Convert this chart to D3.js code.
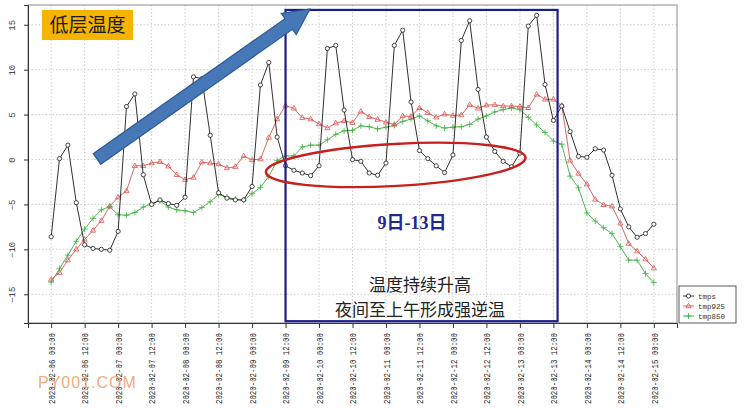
<!DOCTYPE html>
<html><head><meta charset="utf-8">
<script src="https://cdn.jsdelivr.net/npm/d3@7/dist/d3.min.js"></script>
<style>body{margin:0;background:#fff}svg{display:block}</style>
</head><body>
<svg id="c" width="750" height="408"></svg>
<script>
// ---- data (3-hourly, 2020-02-06 00:00 .. 2020-02-15 00:00) ----
const startTime = "2020-02-06T00:00:00Z";
const stepHours = 3;
const tmps = [-8.6,0.1,1.6,-4.8,-9.5,-9.9,-10.0,-10.1,-8.0,5.9,7.3,-1.7,-5.0,-4.5,-4.9,-5.1,-4.2,9.2,9.0,2.7,-3.7,-4.3,-4.5,-4.5,-3.0,8.3,10.8,2.5,-0.7,-1.2,-1.5,-1.8,-0.7,12.35,12.7,5.5,0.0,-0.2,-1.5,-1.75,-0.4,12.7,14.4,6.4,1.0,0.1,-0.7,-1.45,0.5,13.25,15.45,7.8,2.5,0.9,-0.2,-0.8,0.7,14.85,16.05,8.35,4.35,5.95,3.1,0.35,0.25,1.2,1.05,-1.75,-5.5,-7.5,-8.65,-8.25,-7.2];
const tmp925 = [-13.35,-12.6,-11.2,-10.0,-8.9,-7.9,-6.8,-5.2,-4.2,-3.5,-0.7,-0.7,-0.4,-0.25,-0.75,-1.7,-2.25,-2.0,-0.3,-0.4,-0.5,-0.95,-0.8,0.4,-0.05,0.05,2.45,4.5,6.0,5.7,4.65,4.5,3.95,3.5,4.05,4.3,4.1,5.35,4.75,4.45,4.15,3.9,4.85,4.8,5.75,5.2,4.7,5.05,4.9,4.95,6.1,5.7,6.05,6.1,5.95,5.95,5.9,5.75,7.25,6.7,6.7,6.0,-0.1,-1.55,-2.75,-4.45,-5.05,-5.2,-7.1,-9.35,-10.2,-11.1,-12.1];
const tmp850 = [-13.65,-12.15,-10.65,-9.1,-7.75,-6.55,-5.6,-5.25,-6.15,-6.2,-5.9,-5.3,-4.9,-4.6,-5.3,-5.6,-5.7,-5.9,-5.35,-4.7,-3.9,-4.2,-4.4,-4.55,-3.8,-3.1,-1.9,-0.1,0.4,0.4,1.4,1.6,1.6,2.2,2.8,3.2,3.25,3.75,3.65,3.4,3.6,3.8,4.25,4.5,4.85,4.3,3.75,3.5,3.6,3.65,3.9,4.5,4.85,5.3,5.55,5.75,5.55,4.7,3.85,3.0,2.05,1.7,-1.85,-3.15,-5.95,-6.85,-7.6,-8.25,-9.7,-11.2,-11.2,-12.7,-13.7];
const tickLabels = ["2020-02-06 00:00","2020-02-06 12:00","2020-02-07 00:00","2020-02-07 12:00","2020-02-08 00:00","2020-02-08 12:00","2020-02-09 00:00","2020-02-09 12:00","2020-02-10 00:00","2020-02-10 12:00","2020-02-11 00:00","2020-02-11 12:00","2020-02-12 00:00","2020-02-12 12:00","2020-02-13 00:00","2020-02-13 12:00","2020-02-14 00:00","2020-02-14 12:00","2020-02-15 00:00"];
const yTicks = [-15,-10,-5,0,5,10,15];
const seriesNames = ["tmps","tmp925","tmp850"];

// ---- setup ----
const svg = d3.select("#c");
const parse = s => new Date(s.replace(" ","T")+":00Z");
const t0 = Date.parse(startTime);
const times = tmps.map((_, i) => new Date(t0 + i*stepHours*3600e3));
const tickDates = tickLabels.map(parse);
const padH = 8.3*3600e3;
const x = d3.scaleUtc()
  .domain([new Date(+tickDates[0]-padH), new Date(+tickDates[tickDates.length-1]+padH)])
  .range([28, 677]);
const y = d3.scaleLinear().domain([-18.2, 17.2]).range([323, 5]);

// grid
const g = svg.append("g");
g.selectAll(".vg").data(tickDates).join("line")
  .attr("x1", d=>x(d)).attr("x2", d=>x(d)).attr("y1", 5).attr("y2", 323)
  .attr("stroke", "#c8c8c8").attr("stroke-dasharray", "1.5,2").attr("stroke-width", 0.9);
g.selectAll(".hg").data(yTicks).join("line")
  .attr("x1", 28).attr("x2", 677).attr("y1", d=>y(d)).attr("y2", d=>y(d))
  .attr("stroke", "#c8c8c8").attr("stroke-dasharray", "1.5,2").attr("stroke-width", 0.9);

// frame
svg.append("rect").attr("x", 28).attr("y", 5).attr("width", 649).attr("height", 318)
  .attr("fill", "none").attr("stroke", "#8a8a8a").attr("stroke-width", 1);

// axes
const xAxis = d3.axisBottom(x).tickValues(tickDates).tickSize(5).tickFormat((d,i)=>tickLabels[i]);
const xa = svg.append("g").attr("transform", "translate(0,323)").call(xAxis);
xa.select(".domain").attr("stroke", "#333");
xa.selectAll(".tick line").attr("stroke", "#333");
xa.selectAll(".tick text")
  .attr("font-family", "Liberation Mono, DejaVu Sans Mono, monospace")
  .attr("font-size", 9.5).attr("fill", "#222")
  .attr("text-anchor", "end").attr("dy", "0.35em").attr("y", 0)
  .attr("transform", "translate(0,10) rotate(-90)")
  .attr("textLength", 71).attr("lengthAdjust", "spacingAndGlyphs");

const yAxis = d3.axisLeft(y).tickValues(yTicks).tickSize(4).tickFormat(d3.format("d"));
const ya = svg.append("g").attr("transform", "translate(28,0)").call(yAxis);
ya.select(".domain").attr("stroke", "#333");
ya.selectAll(".tick line").attr("stroke", "#333");
ya.selectAll(".tick text")
  .attr("font-family", "Liberation Mono, DejaVu Sans Mono, monospace")
  .attr("font-size", 9).attr("fill", "#444")
  .attr("text-anchor", "middle").attr("x", 0).attr("dy", "0.35em")
  .attr("transform", "translate(-16,0) rotate(-90)");

// series
const series = [
  {name: seriesNames[0], vals: tmps, color: "#1a1a1a", sym: "circle"},
  {name: seriesNames[1], vals: tmp925, color: "#d9534f", sym: "tri"},
  {name: seriesNames[2], vals: tmp850, color: "#3fae3f", sym: "plus"}
];
const symPath = {
  circle: "M2.1,0A2.1,2.1,0,1,1,-2.1,0A2.1,2.1,0,1,1,2.1,0Z",
  tri: "M0,-2.8L2.6,1.7L-2.6,1.7Z",
  plus: "M-3,0H3M0,-3V3"
};
const line = d3.line().x((d,i)=>x(times[i])).y(d=>y(d));
const drawOrder = [series[2], series[1], series[0]];
drawOrder.forEach(s => {
  const sg = svg.append("g");
  sg.append("path").attr("d", line(s.vals)).attr("fill", "none")
    .attr("stroke", s.color).attr("stroke-width", 0.9);
  sg.selectAll("path.m").data(s.vals).join("path").attr("class", "m")
    .attr("transform", (d,i)=>`translate(${x(times[i])},${y(d)})`)
    .attr("d", symPath[s.sym])
    .attr("fill", s.sym === "circle" ? "#fff" : "none")
    .attr("stroke", s.color).attr("stroke-width", 0.8);
});

// legend
const lg = svg.append("g");
lg.append("rect").attr("x", 679).attr("y", 286).attr("width", 57).attr("height", 37)
  .attr("fill", "#fff").attr("stroke", "#333").attr("stroke-width", 0.8);
series.forEach((s, i) => {
  const yy = 296 + i*10;
  lg.append("line").attr("x1", 683).attr("x2", 694).attr("y1", yy).attr("y2", yy)
    .attr("stroke", s.color).attr("stroke-width", 0.9);
  lg.append("path").attr("d", symPath[s.sym]).attr("transform", `translate(688.5,${yy})`)
    .attr("fill", s.sym === "circle" ? "#fff" : "none").attr("stroke", s.color).attr("stroke-width", 0.8);
  lg.append("text").attr("x", 698).attr("y", yy).attr("dy", "0.35em")
    .attr("font-family", "Liberation Mono, DejaVu Sans Mono, monospace")
    .attr("font-size", 7.5).attr("fill", "#333").text(s.name);
});

// ---- annotations ----
const tAt = s => parse(s);
// blue rectangle (9th 12:00 to 13th ~13:30)
svg.append("rect")
  .attr("x", x(tAt("2020-02-09 12:00"))).attr("y", y(16.65))
  .attr("width", x(tAt("2020-02-13 13:30")) - x(tAt("2020-02-09 12:00")))
  .attr("height", y(-18.0) - y(16.65))
  .attr("fill", "none").attr("stroke", "#1c1c8f").attr("stroke-width", 2.2);

// red ellipse
const ecx = x(tAt("2020-02-11 03:30")), ecy = y(-0.6);
svg.append("ellipse").attr("cx", ecx).attr("cy", ecy).attr("rx", 130).attr("ry", 21)
  .attr("transform", `rotate(-3.2,${ecx},${ecy})`)
  .attr("fill", "none").attr("stroke", "#c8201e").attr("stroke-width", 2.4);

// blue arrow
(function(){
  const tail = [97, 159], tip = [310, 9];
  const dx = tip[0]-tail[0], dy = tip[1]-tail[1], L = Math.hypot(dx, dy);
  const ux = dx/L, uy = dy/L, nx = -uy, ny = ux;
  const hw = 6.5, headL = 26, headW = 13;
  const bx = tip[0]-ux*headL, by = tip[1]-uy*headL;
  const P = (px,py,a,b)=>[px+nx*a+ux*b, py+ny*a+uy*b];
  const pts = [P(tail[0],tail[1],hw,0), P(bx,by,hw,0), P(bx,by,headW,0), tip,
               P(bx,by,-headW,0), P(bx,by,-hw,0), P(tail[0],tail[1],-hw,0)];
  svg.append("path").attr("d", "M"+pts.map(p=>p.join(",")).join("L")+"Z")
    .attr("fill", "#4677b6").attr("stroke", "#2e5a94").attr("stroke-width", 1.2);
})();

// yellow label
svg.append("rect").attr("x", 42).attr("y", 10).attr("width", 91).attr("height", 30)
  .attr("fill", "#f5b400");
svg.append("text").attr("x", 87.5).attr("y", 25).attr("dy", "0.36em")
  .attr("text-anchor", "middle").attr("font-family", "Noto Sans CJK SC")
  .attr("font-size", 19).attr("fill", "#1a1a1a").text("低层温度");

// date range text
svg.append("text").attr("x", 412).attr("y", 223).attr("dy", "0.36em")
  .attr("text-anchor", "middle").attr("font-family", "Liberation Serif, Noto Sans CJK SC")
  .attr("font-weight", "bold").attr("font-size", 18).attr("fill", "#1f2a8a").text("9日-13日");

svg.append("text").attr("x", 420).attr("y", 291).attr("text-anchor", "middle")
  .attr("font-family", "Noto Sans CJK SC").attr("font-size", 17).attr("fill", "#222")
  .text("温度持续升高");
svg.append("text").attr("x", 420).attr("y", 316).attr("text-anchor", "middle")
  .attr("font-family", "Noto Sans CJK SC").attr("font-size", 17).attr("fill", "#222")
  .text("夜间至上午形成强逆温");

// watermark
svg.append("text").attr("x", 38).attr("y", 388)
  .attr("font-family", "Liberation Sans, Arial, sans-serif")
  .attr("font-size", 16).attr("letter-spacing", 1).attr("fill", "#f2a06a").attr("fill-opacity", 0.9)
  .text("PY001.COM");
</script>
</body></html>
